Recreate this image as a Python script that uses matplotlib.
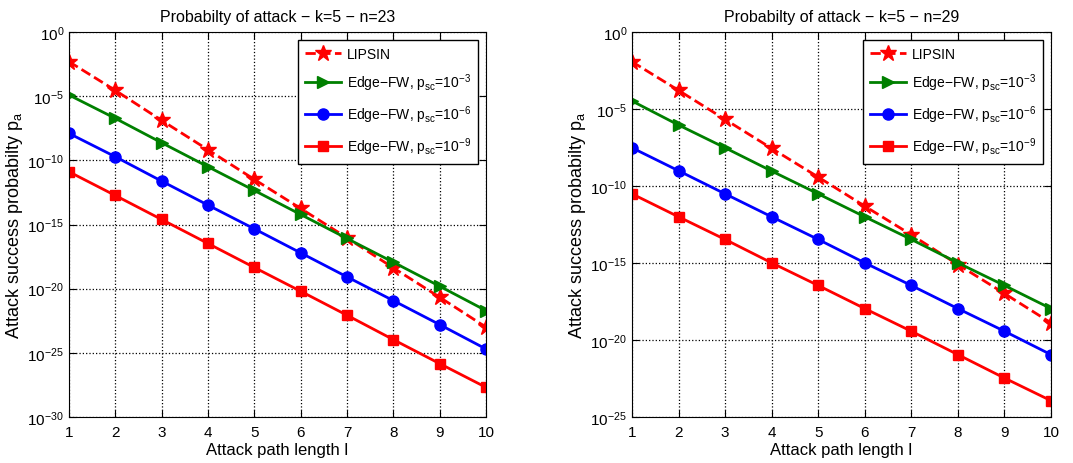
import matplotlib.pyplot as plt
import numpy as np
from matplotlib.ticker import FixedLocator, NullLocator

plt.rcParams['font.family'] = ['Liberation Sans', 'DejaVu Sans']
plt.rcParams['mathtext.default'] = 'regular'

path_len = np.arange(1, 11)

# log10 of the attack success probability
left_lipsin = [-2.31, -4.55, -6.89, -9.18, -11.49, -13.75, -16.04, -18.38, -20.67, -23.0]
left_fw3 = [-4.91, -6.73, -8.63, -10.5, -12.35, -14.22, -16.09, -17.94, -19.81, -21.71]
left_fw6 = [-7.90, -9.72, -11.62, -13.49, -15.34, -17.21, -19.08, -20.93, -22.80, -24.70]
left_fw9 = [-10.89, -12.74, -14.61, -16.48, -18.35, -20.2, -22.07, -23.97, -25.84, -27.69]

right_lipsin = [-1.93, -3.79, -5.68, -7.56, -9.42, -11.31, -13.17, -15.1, -16.98, -18.89]
right_fw3 = [-4.48, -6.04, -7.52, -9.03, -10.51, -12.0, -13.47, -14.99, -16.46, -17.96]
right_fw6 = [-7.52, -9.01, -10.51, -12.0, -13.47, -14.99, -16.46, -17.96, -19.43, -20.95]
right_fw9 = [-10.51, -12.0, -13.47, -14.99, -16.46, -17.96, -19.43, -20.95, -22.47, -23.94]

titles = ['Probabilty of attack \u2212 k=5 \u2212 n=23', 'Probabilty of attack \u2212 k=5 \u2212 n=29']
ymins = [-30, -25]

labels = ['LIPSIN',
          'Edge\u2212FW, p$_{sc}$=10$^{-3}$',
          'Edge\u2212FW, p$_{sc}$=10$^{-6}$',
          'Edge\u2212FW, p$_{sc}$=10$^{-9}$']

fig = plt.figure(figsize=(10.73, 4.64), dpi=100)
W, H = 1073.0, 464.0
boxes = [(69, 33, 486, 418), (632, 33, 1051, 418)]

panels = [(left_lipsin, left_fw3, left_fw6, left_fw9),
          (right_lipsin, right_fw3, right_fw6, right_fw9)]

for i in range(2):
    x0, y0, x1, y1 = boxes[i]
    ax = fig.add_axes([x0 / W, 1 - y1 / H, (x1 - x0) / W, (y1 - y0) / H])
    lip, f3, f6, f9 = [10.0 ** np.array(s) for s in panels[i]]
    ax.semilogy(path_len, lip, '--', color='#ff0000', marker='*', markersize=12, linewidth=2, label=labels[0])
    ax.semilogy(path_len, f3, '-', color='#008000', marker='>', markersize=8, linewidth=2, label=labels[1])
    ax.semilogy(path_len, f6, '-', color='#0000ff', marker='o', markersize=8, linewidth=2, label=labels[2])
    ax.semilogy(path_len, f9, '-', color='#ff0000', marker='s', markersize=7, linewidth=2, label=labels[3])

    ax.set_xlim(1, 10)
    ax.set_ylim(10.0 ** ymins[i], 1)
    ax.set_xticks(path_len)
    ax.yaxis.set_major_locator(FixedLocator([10.0 ** e for e in range(ymins[i], 1, 5)]))
    ax.yaxis.set_minor_locator(NullLocator())
    ax.tick_params(direction='in', top=True, right=True, labelsize=11, length=5)
    ax.tick_params(axis='x', pad=6)
    ax.grid(True, linestyle=':', color='black', linewidth=0.9)
    ax.set_title(titles[i], fontsize=11.5, pad=8)
    ax.set_xlabel('Attack path length l', fontsize=12, labelpad=2)
    ax.set_ylabel('Attack success probabilty p$_a$', fontsize=13, labelpad=2)
    leg = ax.legend(loc='upper right', fontsize=10, fancybox=False, framealpha=1,
                    edgecolor='black', handlelength=2.6, handletextpad=0.4,
                    borderpad=0.5, labelspacing=0.75, borderaxespad=0.6)
    leg.get_frame().set_linewidth(1.0)

fig.savefig('out.png', dpi=100)
